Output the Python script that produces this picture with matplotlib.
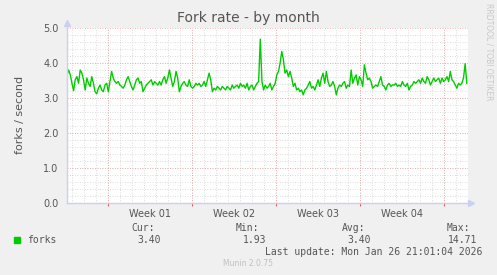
import numpy as np
import matplotlib
matplotlib.use("Agg")
import matplotlib.pyplot as plt
from matplotlib.lines import Line2D

# fork rate samples (forks/second) left to right
forks = [
    3.66, 3.80, 3.66, 3.42, 3.21, 3.52, 3.61, 3.42, 3.80, 3.71,
    3.52, 3.23, 3.57, 3.42, 3.33, 3.61, 3.42, 3.18, 3.12, 3.28,
    3.37, 3.23, 3.18, 3.37, 3.42, 3.18, 3.47, 3.76, 3.57, 3.47,
    3.42, 3.47, 3.37, 3.33, 3.28, 3.37, 3.52, 3.61, 3.47, 3.33,
    3.23, 3.37, 3.52, 3.57, 3.42, 3.47, 3.18, 3.28, 3.37, 3.42,
    3.47, 3.52, 3.37, 3.47, 3.42, 3.37, 3.47, 3.37, 3.52, 3.61,
    3.42, 3.57, 3.80, 3.57, 3.33, 3.47, 3.76, 3.57, 3.18, 3.33,
    3.42, 3.47, 3.37, 3.33, 3.52, 3.33, 3.28, 3.33, 3.42, 3.37,
    3.42, 3.33, 3.37, 3.47, 3.33, 3.52, 3.71, 3.52, 3.18, 3.28,
    3.23, 3.33, 3.28, 3.23, 3.33, 3.28, 3.23, 3.33, 3.28, 3.23,
    3.37, 3.28, 3.33, 3.37, 3.28, 3.42, 3.33, 3.37, 3.28, 3.42,
    3.23, 3.33, 3.37, 3.23, 3.33, 3.42, 3.47, 4.68, 3.47, 3.23,
    3.37, 3.28, 3.33, 3.42, 3.23, 3.33, 3.42, 3.66, 3.76, 4.00,
    4.33, 4.09, 3.71, 3.80, 3.61, 3.76, 3.57, 3.33, 3.42, 3.23,
    3.28, 3.18, 3.23, 3.09, 3.23, 3.28, 3.37, 3.47, 3.28, 3.33,
    3.23, 3.37, 3.52, 3.33, 3.57, 3.71, 3.42, 3.76, 3.47, 3.33,
    3.37, 3.47, 3.33, 3.09, 3.28, 3.37, 3.33, 3.42, 3.47, 3.28,
    3.37, 3.33, 3.80, 3.42, 3.57, 3.66, 3.37, 3.61, 3.52, 3.33,
    3.95, 3.71, 3.52, 3.57, 3.47, 3.28, 3.33, 3.37, 3.33, 3.47,
    3.61, 3.37, 3.33, 3.23, 3.37, 3.42, 3.33, 3.37, 3.37, 3.42,
    3.33, 3.37, 3.33, 3.47, 3.37, 3.33, 3.42, 3.23, 3.33, 3.37,
    3.47, 3.42, 3.47, 3.52, 3.42, 3.57, 3.47, 3.42, 3.61, 3.52,
    3.37, 3.47, 3.57, 3.47, 3.52, 3.57, 3.42, 3.57, 3.47, 3.52,
    3.61, 3.47, 3.76, 3.52, 3.47, 3.37, 3.28, 3.42, 3.37, 3.42,
    3.57, 3.98, 3.42,
]
days_span = 33.4          # width of the graph in days
week_starts = [3.42, 10.42, 17.42, 24.42, 31.42]
week_labels = ["Week 01", "Week 02", "Week 03", "Week 04"]
y_ticks = [0.0, 1.0, 2.0, 3.0, 4.0, 5.0]

stat_names = ["Cur:", "Min:", "Avg:", "Max:"]
stat_values = ["3.40", "1.93", "3.40", "14.71"]

W, H = 497, 275
bg = "#F0F0F0"
txt = "#555555"
fig = plt.figure(figsize=(W / 100, H / 100), dpi=100, facecolor=bg)

def fx(px):
    return px / W

def fy(py):
    return 1 - py / H

left, right, top, bottom = 67, 468, 28, 203
ax = fig.add_axes([fx(left), fy(bottom), (right - left) / W, (bottom - top) / H])
ax.set_facecolor("white")

x = np.linspace(0, days_span - 0.1, len(forks))
ax.plot(x, forks, color="#00CC00", linewidth=1.0, zorder=3)

ax.set_xlim(0, days_span)
ax.set_ylim(0, 5.0)

# grid: minor grey every day / 0.2, major red at weeks / 1.0
for d in np.arange(0.42, days_span, 1.0):
    ax.axvline(d, color="#D0D0D0", lw=0.6, ls=(0, (1, 2)), zorder=1)
for v in np.arange(0.2, 5.0, 0.2):
    ax.axhline(v, color="#D0D0D0", lw=0.6, ls=(0, (1, 2)), zorder=1)
for d in week_starts:
    ax.axvline(d, color="#E8A0A0", lw=0.6, ls=(0, (1, 2)), zorder=2)
for v in y_ticks[1:]:
    ax.axhline(v, color="#E8A0A0", lw=0.6, ls=(0, (1, 2)), zorder=2)

ax.set_yticks(y_ticks)
ax.set_yticklabels([f"{v:.1f}" for v in y_ticks], fontsize=7, color=txt)
ax.tick_params(axis="y", length=0, pad=6)
ax.set_xticks(week_starts)
ax.set_xticklabels([])
ax.tick_params(axis="x", length=2, color="#E06060", direction="out")
mids = [(week_starts[i] + week_starts[i + 1]) / 2 for i in range(len(week_labels))]
for m, lab in zip(mids, week_labels):
    ax.text(m, -0.035, lab, transform=ax.get_xaxis_transform(), ha="center",
            va="top", fontsize=7, color=txt)
for s in ax.spines.values():
    s.set_visible(False)

# axis lines with arrows
axc = "#C8D0F4"
fig.add_artist(Line2D([fx(left), fx(left)], [fy(bottom), fy(24)], color=axc, lw=1))
fig.add_artist(Line2D([fx(left), fx(471)], [fy(bottom), fy(bottom)], color=axc, lw=1))
fig.add_artist(Line2D([fx(left)], [fy(23)], marker="^", markersize=4, color=axc))
fig.add_artist(Line2D([fx(471)], [fy(bottom)], marker=">", markersize=4, color=axc))

fig.text(0.5, fy(18), "Fork rate - by month", ha="center", va="center",
         fontsize=10, color=txt)
fig.text(fx(20), fy(115), "forks / second", rotation=90, ha="center",
         va="center", fontsize=8, color=txt)
fig.text(fx(489), fy(3), "RRDTOOL / TOBI OETIKER", rotation=270, ha="center",
         va="top", fontsize=5.5, color="#C8C8C8")

mono = "DejaVu Sans Mono"
stat_right = [155, 259, 365, 470]
value_right = [161, 266, 371, 477]
for xr, n in zip(stat_right, stat_names):
    fig.text(fx(xr), fy(228), n, ha="right", va="center", fontsize=7,
             family=mono, color=txt)
for xr, v in zip(value_right, stat_values):
    fig.text(fx(xr), fy(240), v, ha="right", va="center", fontsize=7,
             family=mono, color=txt)
fig.add_artist(Line2D([fx(17)], [fy(240)], marker="s", markersize=4.5,
                      color="#00CC00", linestyle="none"))
fig.text(fx(27), fy(240), "forks", ha="left", va="center", fontsize=7,
         family=mono, color=txt)
fig.text(fx(482), fy(252), "Last update: Mon Jan 26 21:01:04 2026", ha="right",
         va="center", fontsize=7, family=mono, color=txt)
fig.text(fx(248), fy(264), "Munin 2.0.75", ha="center", va="center",
         fontsize=5.5, color="#C0C0C0")

fig.savefig("out.png", dpi=100, facecolor=bg)
